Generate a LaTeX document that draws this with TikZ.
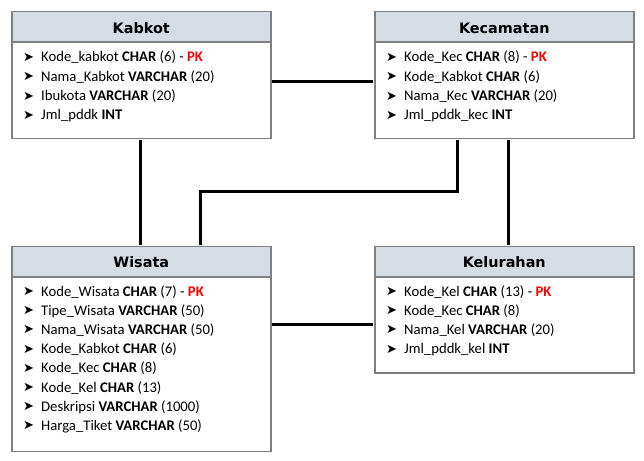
\documentclass[tikz,border=0pt]{standalone}
\usepackage{fontspec}
\setmainfont{Carlito}
\newfontfamily\hdfont{DejaVu Sans}
\newfontfamily\symfont{DejaVu Sans}
\usetikzlibrary{calc}
\definecolor{hdfill}{HTML}{D6DCE4}
\definecolor{bordergray}{HTML}{7F7F7F}
\definecolor{pkred}{HTML}{FF0000}
\tikzset{
  x=1pt, y=1pt,
  tbl/.style={draw=bordergray, line width=1.5pt, fill=white, anchor=north west, inner sep=0pt, minimum width=259pt},
  hdr/.style={draw=bordergray, line width=1.5pt, fill=hdfill, anchor=north west, inner sep=0pt, minimum width=259pt, minimum height=30.5pt},
  hdrtext/.style={inner sep=0pt, font=\hdfont\bfseries\fontsize{14.4}{14.4}\selectfont},
  row/.style={anchor=base west, inner sep=0pt, font=\fontsize{14.7}{14.7}\selectfont},
  bul/.style={anchor=base west, inner sep=0pt, font=\symfont\fontsize{13}{13}\selectfont},
  conn/.style={draw=black, line width=3pt},
}
\newcommand{\rowitem}[4]{%
  \node[bul] (#1b) at ($(#2)+(12,#3+0.5)$) {➤};
  \node[row] (#1) at ($(#2)+(30,#3)$) {#4};
}
\newcommand{\tblhead}[3]{%
  \node[hdr] (#1) at (#2) {};
  \node[hdrtext] (#1t) at ($(#1)+(0,-1)$) {#3};
}
\begin{document}
\begin{tikzpicture}
\useasboundingbox (0,0) rectangle (644,-460);
% Kabkot
\node[tbl, minimum height=126.5pt] (kab) at (11,-11) {};
\tblhead{kabh}{kab.north west}{Kabkot}
\rowitem{k1}{kab.north west}{-50.7}{Kode\_kabkot \textbf{CHAR} (6) - \textcolor{pkred}{\textbf{PK}}}
\rowitem{k2}{kab.north west}{-70.2}{Nama\_Kabkot \textbf{VARCHAR} (20)}
\rowitem{k3}{kab.north west}{-89.5}{Ibukota \textbf{VARCHAR} (20)}
\rowitem{k4}{kab.north west}{-108.8}{Jml\_pddk \textbf{INT}}
% Kecamatan
\node[tbl, minimum height=126.5pt] (kec) at (374,-11) {};
\tblhead{kech}{kec.north west}{Kecamatan}
\rowitem{c1}{kec.north west}{-50.7}{Kode\_Kec \textbf{CHAR} (8) - \textcolor{pkred}{\textbf{PK}}}
\rowitem{c2}{kec.north west}{-70.2}{Kode\_Kabkot \textbf{CHAR} (6)}
\rowitem{c3}{kec.north west}{-89.5}{Nama\_Kec \textbf{VARCHAR} (20)}
\rowitem{c4}{kec.north west}{-108.8}{Jml\_pddk\_kec \textbf{INT}}
% Wisata
\node[tbl, minimum height=205pt] (wis) at (11,-245.5) {};
\tblhead{wish}{wis.north west}{Wisata}
\rowitem{w1}{wis.north west}{-50.5}{Kode\_Wisata \textbf{CHAR} (7) - \textcolor{pkred}{\textbf{PK}}}
\rowitem{w2}{wis.north west}{-69.7}{Tipe\_Wisata \textbf{VARCHAR} (50)}
\rowitem{w3}{wis.north west}{-88.9}{Nama\_Wisata \textbf{VARCHAR} (50)}
\rowitem{w4}{wis.north west}{-108.1}{Kode\_Kabkot \textbf{CHAR} (6)}
\rowitem{w5}{wis.north west}{-127.3}{Kode\_Kec \textbf{CHAR} (8)}
\rowitem{w6}{wis.north west}{-146.5}{Kode\_Kel \textbf{CHAR} (13)}
\rowitem{w7}{wis.north west}{-165.7}{Deskripsi \textbf{VARCHAR} (1000)}
\rowitem{w8}{wis.north west}{-184.9}{Harga\_Tiket \textbf{VARCHAR} (50)}
% Kelurahan
\node[tbl, minimum height=126.5pt] (kel) at (374,-245.5) {};
\tblhead{kelh}{kel.north west}{Kelurahan}
\rowitem{l1}{kel.north west}{-50.5}{Kode\_Kel \textbf{CHAR} (13) - \textcolor{pkred}{\textbf{PK}}}
\rowitem{l2}{kel.north west}{-69.7}{Kode\_Kec \textbf{CHAR} (8)}
\rowitem{l3}{kel.north west}{-88.9}{Nama\_Kel \textbf{VARCHAR} (20)}
\rowitem{l4}{kel.north west}{-108.1}{Jml\_pddk\_kel \textbf{INT}}
% connectors
\draw[conn] ($(kab.north east)+(0.75,-70)$) -- ($(kec.north west)+(-0.75,-70)$);
\draw[conn] ($(kab.south west)+(129,-0.75)$) -- ($(wis.north west)+(129,0.75)$);
\draw[conn] ($(kec.south west)+(83,-0.75)$) |- ($(wis.north west)+(189,54)$) -- ($(wis.north west)+(189,0.75)$);
\draw[conn] ($(kec.south west)+(134,-0.75)$) -- ($(kel.north west)+(134,0.75)$);
\draw[conn] ($(wis.north east)+(0.75,-78.5)$) -- ($(kel.north west)+(-0.75,-78.5)$);
\end{tikzpicture}
\end{document}
